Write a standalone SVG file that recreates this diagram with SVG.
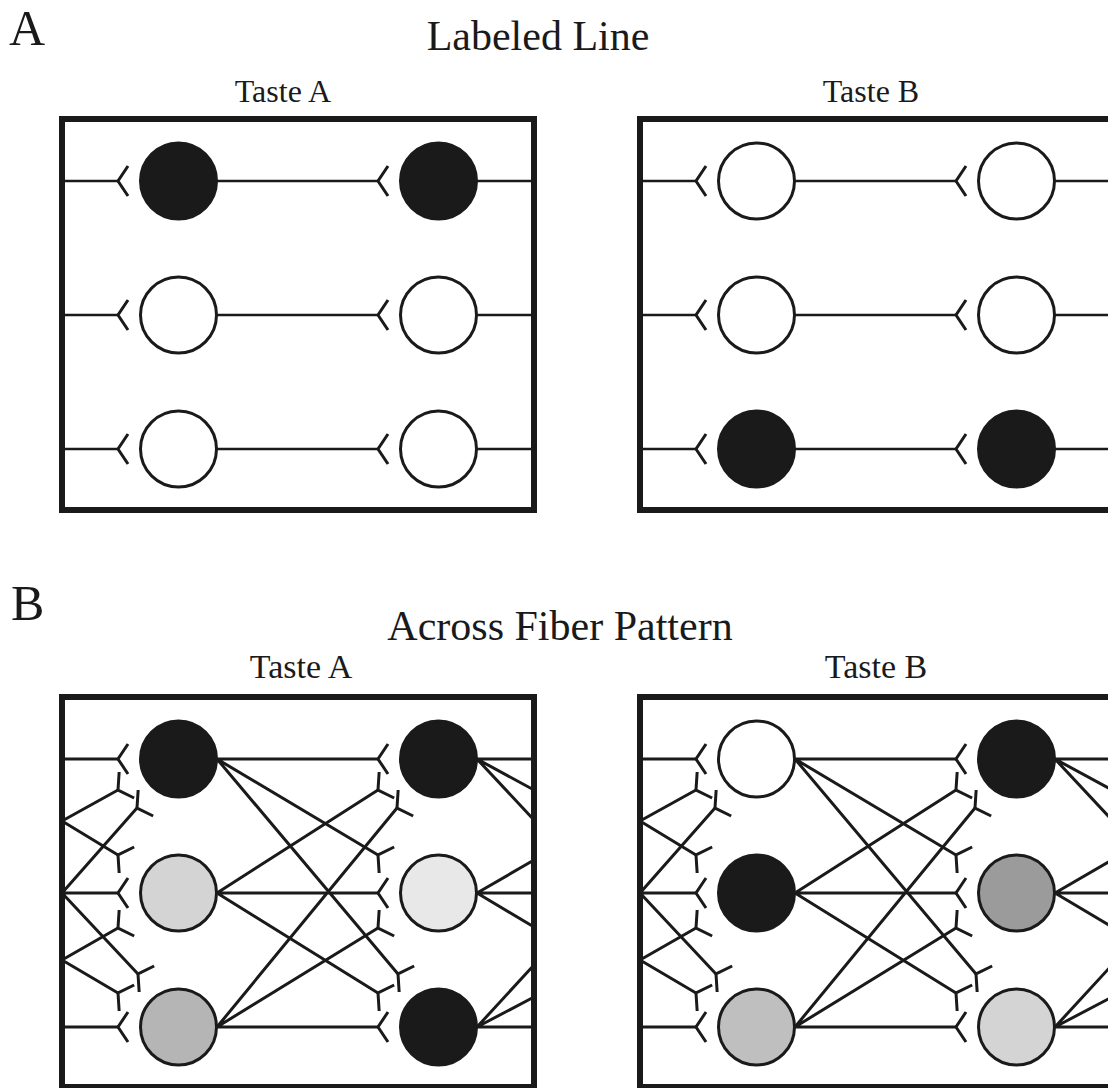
<svg xmlns="http://www.w3.org/2000/svg" xmlns:xlink="http://www.w3.org/1999/xlink" width="1108" height="1088" viewBox="0 0 1108 1088">
  <style>
    .bg { fill: #ffffff; }
    .lbl { font-family: "Liberation Serif", "Times New Roman", serif; fill: #1a1a1a; }
    .panel { font-size: 50px; }
    .title { font-size: 42px; text-anchor: middle; }
    .sub { font-size: 32px; text-anchor: middle; }
    .box { fill: none; stroke: #1a1a1a; stroke-width: 6; }
    .cell { stroke: #1a1a1a; stroke-width: 3; }
    .fiber { fill: none; stroke: #1a1a1a; stroke-width: 2.6; }
    .fiberB { fill: none; stroke: #1a1a1a; stroke-width: 3; }
    .syn { fill: none; stroke: #1a1a1a; stroke-width: 3; stroke-linejoin: miter; }
    .k { fill: #1a1a1a; }
    .w { fill: #ffffff; }
  </style>
  <defs>
    <!-- synaptic terminal: fork opening toward the receiving cell -->
    <path id="fork" d="M10,-15 L0,0 L10,15"/>
  </defs>

  <rect class="bg" x="0" y="0" width="1108" height="1088"/>

  <!-- headings -->
  <g id="labels">
    <text class="lbl panel" x="9" y="45">A</text>
    <text class="lbl title" x="538" y="50">Labeled Line</text>
    <text class="lbl sub" x="283" y="102">Taste A</text>
    <text class="lbl sub" x="871" y="102">Taste B</text>
    <text class="lbl panel" x="11" y="620">B</text>
    <text class="lbl title" x="560" y="640">Across Fiber Pattern</text>
    <text class="lbl sub" x="301" y="678" style="font-size:34px">Taste A</text>
    <text class="lbl sub" x="876" y="678" style="font-size:34px">Taste B</text>
  </g>

  <!-- frames -->
  <g id="frames">
    <rect id="frame-a-taste-a" class="box" x="62" y="119" width="472" height="391"/>
    <rect id="frame-a-taste-b" class="box" x="640" y="119" width="472" height="391"/>
    <rect id="frame-b-taste-a" class="box" x="62" y="697" width="472" height="390"/>
    <rect id="frame-b-taste-b" class="box" x="640" y="697" width="472" height="390"/>
  </g>

  <!-- fibers and synaptic terminals -->
  <g id="connectors">
    <!-- labeled line, one private line per row -->
    <g id="ll-lines-a">
      <path class="fiber" d="M62,181H118M217,181H378M477,181H534M62,315H118M217,315H378M477,315H534M62,449H118M217,449H378M477,449H534"/>
      <g class="syn">
        <use xlink:href="#fork" transform="translate(118,181)"/>
        <use xlink:href="#fork" transform="translate(378,181)"/>
        <use xlink:href="#fork" transform="translate(118,315)"/>
        <use xlink:href="#fork" transform="translate(378,315)"/>
        <use xlink:href="#fork" transform="translate(118,449)"/>
        <use xlink:href="#fork" transform="translate(378,449)"/>
      </g>
    </g>
    <g id="ll-lines-b" transform="translate(578,0)">
      <path class="fiber" d="M62,181H118M217,181H378M477,181H534M62,315H118M217,315H378M477,315H534M62,449H118M217,449H378M477,449H534"/>
      <g class="syn">
        <use xlink:href="#fork" transform="translate(118,181)"/>
        <use xlink:href="#fork" transform="translate(378,181)"/>
        <use xlink:href="#fork" transform="translate(118,315)"/>
        <use xlink:href="#fork" transform="translate(378,315)"/>
        <use xlink:href="#fork" transform="translate(118,449)"/>
        <use xlink:href="#fork" transform="translate(378,449)"/>
      </g>
    </g>

    <!-- across fiber pattern, convergent and divergent wiring -->
    <g id="af-lines-a">
      <path class="fiberB" d="M62,759L118,759M62,821L118,790M62,821L118,855M62,893L137,808M62,893L118,893M62,893L138,974M62,960L118,928M62,960L118,993M62,1027L118,1027
        M217,759L378,759M217,759L378,855M217,759L398,974M217,893L378,790M217,893L378,893M217,893L378,993M217,1027L397,808M217,1027L378,928M217,1027L378,1027
        M477,759L534,759M477,759L534,790M477,759L534,820M477,893L534,860M477,893L534,893M477,893L534,927M477,1027L534,965M477,1027L534,997M477,1027L534,1027"/>
      <g class="syn">
        <use xlink:href="#fork" transform="translate(118,759)"/>
        <use xlink:href="#fork" transform="translate(118,790) rotate(-30)"/>
        <use xlink:href="#fork" transform="translate(137,808) rotate(-30)"/>
        <use xlink:href="#fork" transform="translate(118,855) rotate(30)"/>
        <use xlink:href="#fork" transform="translate(118,893)"/>
        <use xlink:href="#fork" transform="translate(118,928) rotate(-30)"/>
        <use xlink:href="#fork" transform="translate(138,974) rotate(30)"/>
        <use xlink:href="#fork" transform="translate(118,993) rotate(30)"/>
        <use xlink:href="#fork" transform="translate(118,1027)"/>
        <use xlink:href="#fork" transform="translate(378,759)"/>
        <use xlink:href="#fork" transform="translate(378,790) rotate(-30)"/>
        <use xlink:href="#fork" transform="translate(397,808) rotate(-30)"/>
        <use xlink:href="#fork" transform="translate(378,855) rotate(30)"/>
        <use xlink:href="#fork" transform="translate(378,893)"/>
        <use xlink:href="#fork" transform="translate(378,928) rotate(-30)"/>
        <use xlink:href="#fork" transform="translate(398,974) rotate(30)"/>
        <use xlink:href="#fork" transform="translate(378,993) rotate(30)"/>
        <use xlink:href="#fork" transform="translate(378,1027)"/>
      </g>
    </g>
    <g id="af-lines-b" transform="translate(578,0)">
      <path class="fiberB" d="M62,759L118,759M62,821L118,790M62,821L118,855M62,893L137,808M62,893L118,893M62,893L138,974M62,960L118,928M62,960L118,993M62,1027L118,1027
        M217,759L378,759M217,759L378,855M217,759L398,974M217,893L378,790M217,893L378,893M217,893L378,993M217,1027L397,808M217,1027L378,928M217,1027L378,1027
        M477,759L534,759M477,759L534,790M477,759L534,820M477,893L534,860M477,893L534,893M477,893L534,927M477,1027L534,965M477,1027L534,997M477,1027L534,1027"/>
      <g class="syn">
        <use xlink:href="#fork" transform="translate(118,759)"/>
        <use xlink:href="#fork" transform="translate(118,790) rotate(-30)"/>
        <use xlink:href="#fork" transform="translate(137,808) rotate(-30)"/>
        <use xlink:href="#fork" transform="translate(118,855) rotate(30)"/>
        <use xlink:href="#fork" transform="translate(118,893)"/>
        <use xlink:href="#fork" transform="translate(118,928) rotate(-30)"/>
        <use xlink:href="#fork" transform="translate(138,974) rotate(30)"/>
        <use xlink:href="#fork" transform="translate(118,993) rotate(30)"/>
        <use xlink:href="#fork" transform="translate(118,1027)"/>
        <use xlink:href="#fork" transform="translate(378,759)"/>
        <use xlink:href="#fork" transform="translate(378,790) rotate(-30)"/>
        <use xlink:href="#fork" transform="translate(397,808) rotate(-30)"/>
        <use xlink:href="#fork" transform="translate(378,855) rotate(30)"/>
        <use xlink:href="#fork" transform="translate(378,893)"/>
        <use xlink:href="#fork" transform="translate(378,928) rotate(-30)"/>
        <use xlink:href="#fork" transform="translate(398,974) rotate(30)"/>
        <use xlink:href="#fork" transform="translate(378,993) rotate(30)"/>
        <use xlink:href="#fork" transform="translate(378,1027)"/>
      </g>
    </g>
  </g>

  <!-- neurons: labeled line, taste A -->
  <g id="ll-a-1-1"><circle class="cell k" cx="178.5" cy="181" r="38"/></g>
  <g id="ll-a-1-2"><circle class="cell w" cx="178.5" cy="315" r="38"/></g>
  <g id="ll-a-1-3"><circle class="cell w" cx="178.5" cy="449" r="38"/></g>
  <g id="ll-a-2-1"><circle class="cell k" cx="438.5" cy="181" r="38"/></g>
  <g id="ll-a-2-2"><circle class="cell w" cx="438.5" cy="315" r="38"/></g>
  <g id="ll-a-2-3"><circle class="cell w" cx="438.5" cy="449" r="38"/></g>

  <!-- neurons: labeled line, taste B -->
  <g id="ll-b-1-1"><circle class="cell w" cx="756.5" cy="181" r="38"/></g>
  <g id="ll-b-1-2"><circle class="cell w" cx="756.5" cy="315" r="38"/></g>
  <g id="ll-b-1-3"><circle class="cell k" cx="756.5" cy="449" r="38"/></g>
  <g id="ll-b-2-1"><circle class="cell w" cx="1016.5" cy="181" r="38"/></g>
  <g id="ll-b-2-2"><circle class="cell w" cx="1016.5" cy="315" r="38"/></g>
  <g id="ll-b-2-3"><circle class="cell k" cx="1016.5" cy="449" r="38"/></g>

  <!-- neurons: across fiber pattern, taste A -->
  <g id="af-a-1-1"><circle class="cell k" cx="178.5" cy="759" r="38"/></g>
  <g id="af-a-1-2"><circle class="cell" fill="#d4d4d4" cx="178.5" cy="893" r="38"/></g>
  <g id="af-a-1-3"><circle class="cell" fill="#b5b5b5" cx="178.5" cy="1027" r="38"/></g>
  <g id="af-a-2-1"><circle class="cell k" cx="438.5" cy="759" r="38"/></g>
  <g id="af-a-2-2"><circle class="cell" fill="#e8e8e8" cx="438.5" cy="893" r="38"/></g>
  <g id="af-a-2-3"><circle class="cell k" cx="438.5" cy="1027" r="38"/></g>

  <!-- neurons: across fiber pattern, taste B -->
  <g id="af-b-1-1"><circle class="cell w" cx="756.5" cy="759" r="38"/></g>
  <g id="af-b-1-2"><circle class="cell k" cx="756.5" cy="893" r="38"/></g>
  <g id="af-b-1-3"><circle class="cell" fill="#bfbfbf" cx="756.5" cy="1027" r="38"/></g>
  <g id="af-b-2-1"><circle class="cell k" cx="1016.5" cy="759" r="38"/></g>
  <g id="af-b-2-2"><circle class="cell" fill="#9b9b9b" cx="1016.5" cy="893" r="38"/></g>
  <g id="af-b-2-3"><circle class="cell" fill="#d4d4d4" cx="1016.5" cy="1027" r="38"/></g>
</svg>
